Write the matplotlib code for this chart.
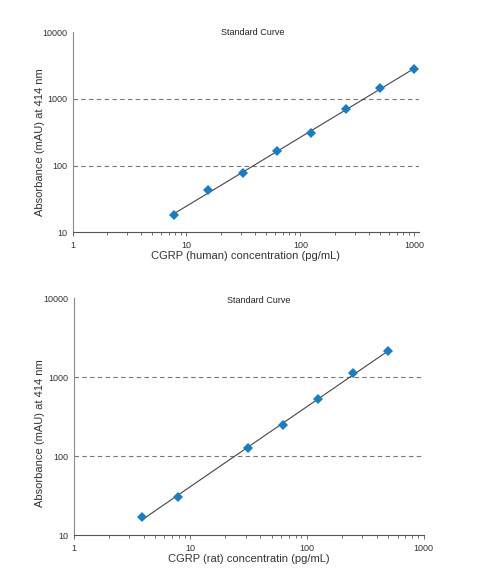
import matplotlib.pyplot as plt
from matplotlib.ticker import LogLocator, FixedLocator, FixedFormatter, NullFormatter
import numpy as np

plt.rcParams['font.family'] = ['Liberation Sans', 'DejaVu Sans']

# human standard curve
human_conc = [7.8, 15.6, 31.25, 62.5, 125, 250, 500, 1000]
human_abs = [18.2, 42.6, 77, 167, 307, 708, 1445, 2810]

# rat standard curve
rat_conc = [3.9, 7.8, 31.25, 62.5, 125, 250, 500]
rat_abs = [16.9, 30.8, 126, 251, 536, 1133, 2172]

tick_vals = [1, 10, 100, 1000]
tick_labels = ["1", "10", "100", "1000"]
ytick_vals = [10, 100, 1000, 10000]
ytick_labels = ["10", "100", "1000", "10000"]

marker_col = "#1b7dbf"
axis_col = "#8a8a8a"


def draw(ax, conc, absb, xlabel, xmax, title_x, ylab_y):
    # power fit in log-log space
    p = np.polyfit(np.log10(conc), np.log10(absb), 1)
    xs = np.array([conc[0], conc[-1]])
    ax.plot(xs, 10 ** np.polyval(p, np.log10(xs)), color="#444444", lw=0.8, zorder=2)
    ax.plot(conc, absb, linestyle="none", marker="D", ms=5.2, color=marker_col,
            markeredgewidth=0, zorder=3)
    ax.set_xscale("log")
    ax.set_yscale("log")
    ax.set_xlim(1, xmax)
    ax.set_ylim(10, 10000)
    for v in [100, 1000]:
        ax.axhline(v, color="#777777", lw=0.8, ls=(0, (4, 3)), zorder=1)
    ax.spines["top"].set_visible(False)
    ax.spines["right"].set_visible(False)
    ax.spines["left"].set_color(axis_col)
    ax.spines["bottom"].set_color("#555555")
    ax.spines["left"].set_linewidth(0.8)
    ax.spines["bottom"].set_linewidth(0.8)
    ax.xaxis.set_major_locator(FixedLocator(tick_vals))
    ax.xaxis.set_major_formatter(FixedFormatter(tick_labels))
    ax.xaxis.set_minor_locator(LogLocator(base=10, subs=np.arange(2, 10)))
    ax.xaxis.set_minor_formatter(NullFormatter())
    ax.yaxis.set_major_locator(FixedLocator(ytick_vals))
    ax.yaxis.set_major_formatter(FixedFormatter(ytick_labels))
    ax.yaxis.set_minor_locator(FixedLocator([]))
    ax.tick_params(axis="x", which="major", length=3, width=0.6, color="#555555",
                   pad=3, labelsize=6.5, labelcolor="#333333")
    ax.tick_params(axis="x", which="minor", length=2, width=0.6, color="#555555")
    ax.tick_params(axis="y", which="major", length=0, pad=4, labelsize=6.5, colors="#333333")
    ax.set_xlabel(xlabel, fontsize=8, color="#333333", labelpad=1)
    ax.set_ylabel("Absorbance (mAU) at 414 nm", fontsize=8, color="#333333")
    ax.yaxis.set_label_coords(-0.08, ylab_y)
    ax.text(title_x, 1.0, "Standard Curve", transform=ax.transAxes, ha="center",
            va="center", fontsize=6.5, color="#222222")


fig = plt.figure(figsize=(5, 5.85), dpi=100)
ax1 = fig.add_axes([0.145, 0.603, 0.693, 0.342])
draw(ax1, human_conc, human_abs, "CGRP (human) concentration (pg/mL)", 1100, 0.52, 0.45)

ax2 = fig.add_axes([0.147, 0.085, 0.70, 0.405])
draw(ax2, rat_conc, rat_abs, "CGRP (rat) concentratin (pg/mL)", 1000, 0.53, 0.43)
ax2.texts[0].set_y(0.99)

plt.savefig("out.png", dpi=100)
